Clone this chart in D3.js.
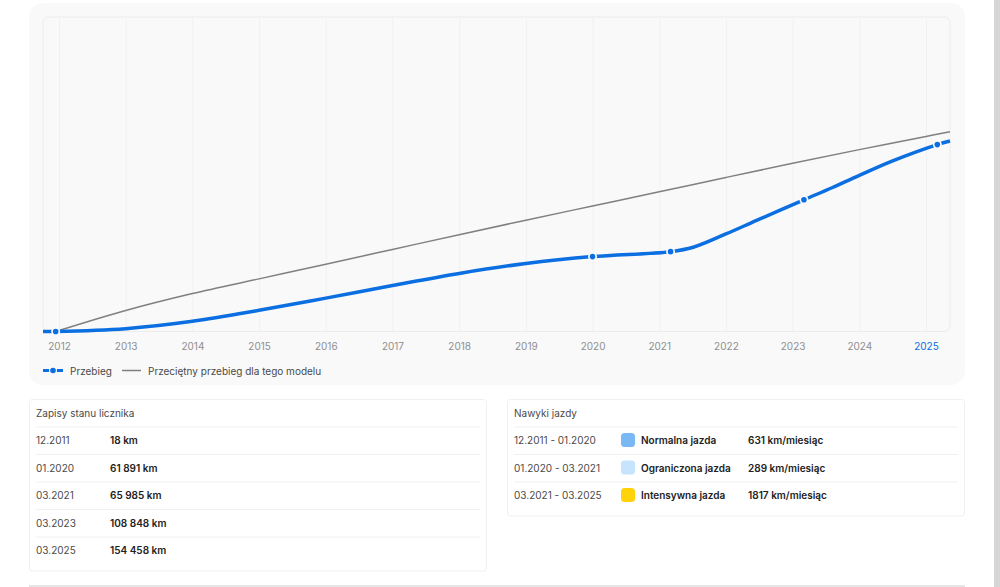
<!DOCTYPE html>
<html lang="pl">
<head>
<meta charset="utf-8">
<title>Przebieg</title>
<script src="https://cdn.jsdelivr.net/npm/d3@7"></script>
<style>
  html, body { margin: 0; padding: 0; background: #fff; overflow: hidden; }
  svg { display: block; font-family: Inter, "Noto Sans", sans-serif; }
  .card { fill: #fff; stroke: #f0f0f0; }
  .sep { stroke: #f0f0f0; }
  .label { font-size: 10px; fill: #4a4a4a; }
  .value { font-size: 10px; fill: #222; font-weight: 600; }
</style>
</head>
<body>
<div id="chart"></div>
<script>
  'use strict';

  var tickYears = [2012, 2013, 2014, 2015, 2016, 2017, 2018, 2019, 2020, 2021, 2022, 2023, 2024, 2025];

  var mileageYears = [2011.76, 2011.95, 2013, 2014, 2015, 2016, 2017, 2018, 2019, 2020, 2021.17, 2021.51, 2022, 2022.46, 2023.17, 2023.59, 2024, 2024.5, 2025.17, 2025.36];
  var mileageKm = [0, 18, 2300, 8400, 17500, 27600, 38000, 48000, 56200, 61891, 65985, 69600, 80600, 91800, 108848, 118800, 129000, 141000, 154458, 157400];

  var averageYears = [2011.95, 2013, 2014, 2015, 2016, 2017, 2018, 2019, 2020, 2021, 2022, 2023, 2024, 2025, 2025.36];
  var averageKm = [0, 17400, 31400, 43500, 55600, 67800, 80000, 92000, 103700, 115400, 127300, 139000, 150300, 161200, 165100];

  var recordYears = [2011.95, 2020, 2021.17, 2023.17, 2025.17];
  var recordKm = [18, 61891, 65985, 108848, 154458];

  var recordDates = ['12.2011', '01.2020', '03.2021', '03.2023', '03.2025'];
  var recordLabels = ['18 km', '61 891 km', '65 985 km', '108 848 km', '154 458 km'];

  var habitDates = ['12.2011 - 01.2020', '01.2020 - 03.2021', '03.2021 - 03.2025'];
  var habitNames = ['Normalna jazda', 'Ograniczona jazda', 'Intensywna jazda'];
  var habitRates = ['631 km/miesiąc', '289 km/miesiąc', '1817 km/miesiąc'];
  var habitColors = ['#7ab8f5', '#c6e4fd', '#ffd20a'];

  var BLUE = '#0b6fe2';
  var GREY = '#808080';
  var PANEL = '#f9f9f9';

  var svg = d3.select('#chart').append('svg')
    .attr('width', 1000)
    .attr('height', 587);

  var x = d3.scaleLinear().domain([2011.76, 2025.36]).range([43, 950]);
  var y = d3.scaleLinear().domain([0, 259900]).range([331.5, 17]);

  function drawPanel() {
    svg.append('rect')
      .attr('x', 29).attr('y', 3)
      .attr('width', 936).attr('height', 382)
      .attr('rx', 14)
      .attr('fill', PANEL);
    svg.append('rect')
      .attr('x', 43).attr('y', 17)
      .attr('width', 907).attr('height', 314.5)
      .attr('rx', 6)
      .attr('fill', 'none')
      .attr('stroke', '#ececec');
  }

  function drawAxis() {
    var grid = d3.axisBottom(x)
      .tickValues(tickYears)
      .tickSize(-314)
      .tickFormat('');
    var gridG = svg.append('g')
      .attr('transform', 'translate(0,331.5)')
      .call(grid);
    gridG.select('.domain').remove();
    gridG.selectAll('line').attr('stroke', '#f1f1f1');

    var axis = d3.axisBottom(x)
      .tickValues(tickYears)
      .tickSize(0)
      .tickPadding(0)
      .tickFormat(d3.format('d'));
    var axisG = svg.append('g')
      .attr('transform', 'translate(0,343)')
      .call(axis);
    axisG.select('.domain').remove();
    axisG.selectAll('text')
      .style('font-family', 'Inter, sans-serif')
      .style('font-size', '10px')
      .attr('fill', function(d) { return d === 2025 ? BLUE : '#8f8f8f'; });
  }

  function drawLines() {
    var line = d3.line()
      .x(function(d) { return x(d[0]); })
      .y(function(d) { return y(d[1]); })
      .curve(d3.curveCatmullRom.alpha(0.5));

    svg.append('path')
      .attr('d', line(d3.zip(averageYears, averageKm)))
      .attr('fill', 'none')
      .attr('stroke', GREY)
      .attr('stroke-width', 1.5);

    svg.append('path')
      .attr('d', line(d3.zip(mileageYears, mileageKm)))
      .attr('fill', 'none')
      .attr('stroke', BLUE)
      .attr('stroke-width', 3.5);

    var dots = svg.append('g').selectAll('g')
      .data(d3.zip(recordYears, recordKm))
      .join('g')
      .attr('transform', function(d) { return 'translate(' + x(d[0]) + ',' + y(d[1]) + ')'; });
    dots.append('circle').attr('r', 4.5).attr('fill', PANEL);
    dots.append('circle').attr('r', 2.8).attr('fill', BLUE);
  }

  function drawLegend() {
    var g = svg.append('g');
    g.append('line')
      .attr('x1', 43).attr('x2', 63).attr('y1', 370.5).attr('y2', 370.5)
      .attr('stroke', BLUE).attr('stroke-width', 3);
    g.append('circle').attr('cx', 53).attr('cy', 370.5).attr('r', 4).attr('fill', PANEL);
    g.append('circle').attr('cx', 53).attr('cy', 370.5).attr('r', 2.8).attr('fill', BLUE);
    g.append('text').attr('class', 'label').attr('x', 70).attr('y', 374.5).text('Przebieg');
    g.append('line')
      .attr('x1', 122).attr('x2', 141).attr('y1', 370.5).attr('y2', 370.5)
      .attr('stroke', GREY).attr('stroke-width', 1.5);
    g.append('text').attr('class', 'label').attr('x', 148).attr('y', 374.5)
      .text('Przeciętny przebieg dla tego modelu');
  }

  function drawCard(left, width, height, title, rows) {
    var rowH = 27.5;
    var g = svg.append('g');
    g.append('rect')
      .attr('class', 'card')
      .attr('x', left + 0.5).attr('y', 399.5)
      .attr('width', width).attr('height', height)
      .attr('rx', 3);
    g.append('text').attr('class', 'label').attr('x', left + 7).attr('y', 416.5).text(title);
    g.selectAll('line')
      .data(d3.range(rows))
      .join('line')
      .attr('class', 'sep')
      .attr('x1', left + 7).attr('x2', left + width - 6)
      .attr('y1', function(i) { return 427 + i * rowH; })
      .attr('y2', function(i) { return 427 + i * rowH; });
    return function(i) { return 444 + i * rowH; };
  }

  function drawRecords() {
    var rowY = drawCard(29, 457, 171.5, 'Zapisy stanu licznika', recordDates.length);
    var g = svg.append('g');
    g.selectAll('text.label')
      .data(recordDates)
      .join('text')
      .attr('class', 'label')
      .attr('x', 36)
      .attr('y', function(d, i) { return rowY(i); })
      .text(function(d) { return d; });
    g.selectAll('text.value')
      .data(recordLabels)
      .join('text')
      .attr('class', 'value')
      .attr('x', 110)
      .attr('y', function(d, i) { return rowY(i); })
      .text(function(d) { return d; });
  }

  function drawHabits() {
    var rowY = drawCard(507, 457, 116.5, 'Nawyki jazdy', habitDates.length);
    var g = svg.append('g');
    g.selectAll('text.label')
      .data(habitDates)
      .join('text')
      .attr('class', 'label')
      .attr('x', 514)
      .attr('y', function(d, i) { return rowY(i); })
      .text(function(d) { return d; });
    g.selectAll('rect.swatch')
      .data(habitColors)
      .join('rect')
      .attr('class', 'swatch')
      .attr('x', 621)
      .attr('y', function(d, i) { return rowY(i) - 11; })
      .attr('width', 14).attr('height', 14)
      .attr('rx', 3.5)
      .attr('fill', function(d) { return d; });
    g.selectAll('text.name')
      .data(habitNames)
      .join('text')
      .attr('class', 'value name')
      .attr('x', 641)
      .attr('y', function(d, i) { return rowY(i); })
      .text(function(d) { return d; });
    g.selectAll('text.rate')
      .data(habitRates)
      .join('text')
      .attr('class', 'value rate')
      .attr('x', 748)
      .attr('y', function(d, i) { return rowY(i); })
      .text(function(d) { return d; });
  }

  function drawPageEdges() {
    svg.append('rect')
      .attr('x', 994).attr('y', 0)
      .attr('width', 6).attr('height', 587)
      .attr('fill', '#d6d6d6');
    svg.append('rect')
      .attr('x', 29).attr('y', 585)
      .attr('width', 936).attr('height', 2)
      .attr('fill', '#e6e6e6');
  }

  function main() {
    drawPanel();
    drawAxis();
    drawLines();
    drawLegend();
    drawRecords();
    drawHabits();
    drawPageEdges();
  }

  main();
</script>
</body>
</html>
